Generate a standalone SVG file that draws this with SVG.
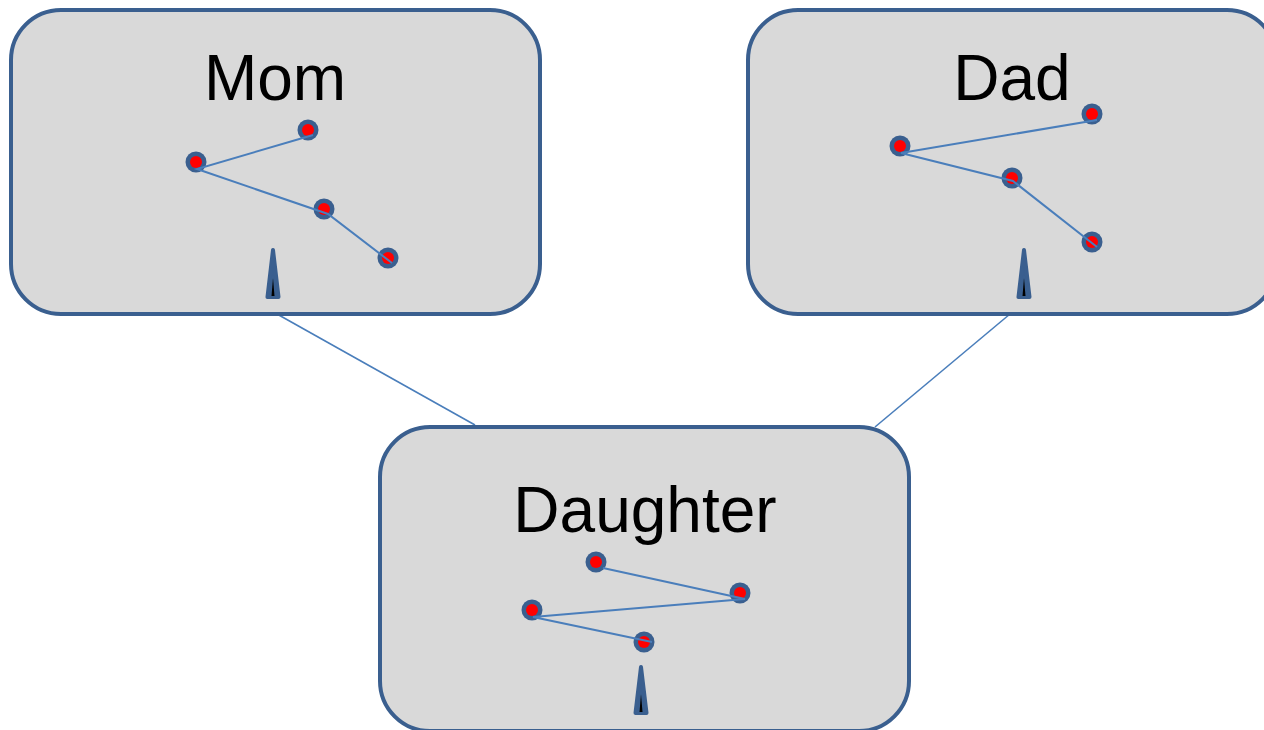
<svg xmlns="http://www.w3.org/2000/svg" width="1264" height="730" viewBox="0 0 1264 730">
<style>
.box{fill:#D9D9D9;stroke:#3A5F8F;stroke-width:4}
.lbl{font-family:"Liberation Sans",Arial,sans-serif;font-size:64px;fill:#000;text-anchor:middle}
.ln{stroke:#4A7EBB;stroke-width:2;fill:none}
.conn{stroke:#4A7EBB;stroke-width:1.6;fill:none}
.spike{fill:#3A5F8F;stroke:#3A5F8F;stroke-width:4;stroke-linejoin:round}
.tip{fill:#000}
</style>
<defs>
<g id="dot"><circle r="10.5" fill="#3A5F8F"/><circle r="6" fill="#FF0000"/></g>
</defs>
<rect width="1264" height="730" fill="#FFFFFF"/>
<g id="connectors">
<line class="conn" x1="277" y1="314" x2="475" y2="425"/>
<line class="conn" x1="1010" y1="314" x2="875" y2="427"/>
</g>
<g id="mom">
<rect class="box" x="11" y="10" width="529" height="304" rx="50" ry="50"/>
<text class="lbl" x="275" y="100">Mom</text>
<use href="#dot" x="196" y="162"/>
<use href="#dot" x="308" y="130"/>
<use href="#dot" x="324" y="209"/>
<use href="#dot" x="388" y="258"/>
<polyline class="ln" points="313,135 197,169 328,214 392,263"/>
<polygon class="spike" points="273,250 267.5,297 278.5,297"/>
<polygon class="tip" points="273,278 271.5,296 274.5,296"/>
</g>
<g id="dad">
<rect class="box" x="748" y="10" width="529" height="304" rx="50" ry="50"/>
<text class="lbl" x="1012" y="100">Dad</text>
<use href="#dot" x="900" y="146"/>
<use href="#dot" x="1092" y="114"/>
<use href="#dot" x="1012" y="178"/>
<use href="#dot" x="1092" y="242"/>
<polyline class="ln" points="1097,120 901,153 1013,181 1097,247"/>
<polygon class="spike" points="1024,250 1018.5,297 1029.5,297"/>
<polygon class="tip" points="1024,278 1022.5,296 1025.5,296"/>
</g>
<g id="daughter">
<rect class="box" x="380" y="427" width="529" height="304" rx="50" ry="50"/>
<text class="lbl" x="645" y="532">Daughter</text>
<use href="#dot" x="596" y="562"/>
<use href="#dot" x="740" y="593"/>
<use href="#dot" x="532" y="610"/>
<use href="#dot" x="644" y="642"/>
<polyline class="ln" points="603,568 745,599 533,617 652,642"/>
<polygon class="spike" points="641,667 635.5,713 646.5,713"/>
<polygon class="tip" points="641,694 639.5,712 642.5,712"/>
</g>
</svg>
